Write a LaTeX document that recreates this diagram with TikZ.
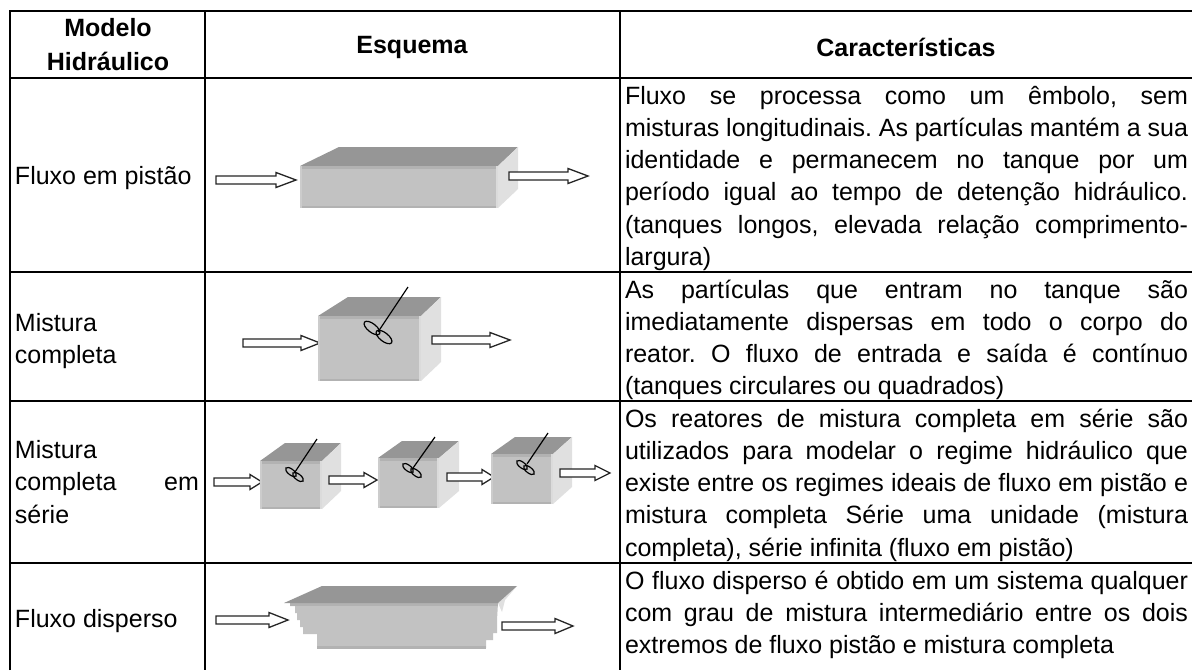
\documentclass[tikz,border=0pt]{standalone}
\usepackage{fontspec}
\setmainfont{Liberation Sans}
\frenchspacing
\newcommand{\fl}{\leavevmode\rule{0pt}{22pt}}
\newcommand{\flowarrow}[4]{% x1, xhead, x2, y
  \draw[arrowshape] (#1,#4-4) -- (#2,#4-4) -- (#2,#4-7.5) -- (#3,#4) -- (#2,#4+7.5) -- (#2,#4+4) -- (#1,#4+4) -- cycle;}
\newcommand{\tank}[7]{% xl xr ytop ybot xbl xbr ybtop
  \fill[topface] (#1,#3) -- (#5,#7) -- (#6,#7) -- (#2,#3) -- cycle;
  \fill[sideface] (#2,#3) -- (#6,#7) -- (#6,#4-#3+#7) -- (#2,#4) -- cycle;
  \fill[frontface] (#1,#3) rectangle (#2,#4);
  \fill[frontedge] (#1,#3) rectangle (#2,#3+2.5);
  \fill[frontedge] (#1,#4-2.5) rectangle (#2,#4);
  \fill[frontleft] (#1,#3) rectangle (#1+2,#4);
  \fill[frontright] (#2-2,#3) rectangle (#2,#4);}
\newcommand{\mixer}[9]{% stick top x y, stick bottom x y, blade1 x y, blade2 x y, radius
  \draw[mixline] (#1,#2) -- (#3,#4);
  \draw[mixline,shift={(#5,#6)},rotate=-38] (0,0) ellipse[x radius=#9pt,y radius=#9*0.45pt];
  \draw[mixline,shift={(#7,#8)},rotate=-38] (0,0) ellipse[x radius=#9pt,y radius=#9*0.45pt];}
\tikzset{
  x=1pt,y=-1pt,
  grid/.style={line width=2pt,black},
  arrowshape/.style={draw=black!85,fill=white,line width=1.3pt,line join=miter},
  topface/.style={fill=black!41},
  sideface/.style={fill=black!12},
  frontface/.style={fill=black!24},
  frontedge/.style={fill=black!30},
  frontleft/.style={fill=black!20},
  frontright/.style={fill=black!14},
  mixline/.style={draw=black,line width=1.2pt},
  cell/.style={inner sep=0pt,outer sep=0pt,font=\fontsize{25}{32.3}\selectfont,align=justify,text width=563pt,anchor=north west},
  label/.style={inner sep=0pt,outer sep=0pt,font=\fontsize{25}{32.8}\selectfont,align=justify,text width=184pt,anchor=north west},
  head/.style={inner sep=0pt,outer sep=0pt,font=\fontsize{25}{34}\selectfont\bfseries,align=center},
}
\begin{document}
\begin{tikzpicture}
\useasboundingbox (0,0) rectangle (1192,670);
\fill[white] (0,0) rectangle (1192,670);
% schemes
\flowarrow{216}{276}{296}{180}
\tank{300}{498}{166}{208}{339}{518}{147}
\flowarrow{509}{568}{588}{176}
\flowarrow{243}{301}{320}{343}
\tank{318}{421}{316}{381}{348}{441}{297}
\mixer{408}{287}{378}{332}{372}{328}{384}{337}{9.5}
\flowarrow{432}{490}{510}{340}
\flowarrow{214}{250}{262}{482}
\tank{260}{322}{461}{509}{285}{341}{443}
\mixer{317}{439}{295}{472}{291}{472}{298}{477}{6.5}
\flowarrow{329}{364}{377}{480}
\tank{378}{439}{458}{508}{402}{459}{441}
\mixer{435}{437}{413}{468}{408}{468}{416}{473}{6.5}
\flowarrow{447}{482}{494}{477}
\tank{491}{553}{454}{504}{515}{572}{437}
\mixer{548}{433}{527}{464}{522}{465}{529}{470}{6.5}
\flowarrow{560}{595}{610}{473}
% dispersed tank
\fill[sideface] (498,603) -- (517,586) -- (505,600) -- (502,612) -- cycle;
\fill[frontface] (290,603) -- (290,606) -- (295,606) -- (295,613) -- (297,613) -- (297,620) -- (300,620) -- (300,627) -- (303,627) -- (303,634) -- (317,634) -- (317,648) -- (486,648) -- (486,640) -- (493,640) -- (493,633) -- (497,633) -- (497,620) -- (498,603) -- cycle;
\fill[frontedge] (317,646) rectangle (486,648.5);
\fill[frontedge] (290,603) rectangle (498,606);
\fill[topface] (284,603) -- (322,586) -- (517,586) -- (498,603) -- cycle;
\flowarrow{216}{269}{288}{620}
\flowarrow{502}{555}{573}{626}
% grid
\draw[grid] (10,670) -- (10,11) -- (1192,11);
\draw[grid] (205,11) -- (205,670);
\draw[grid] (620,11) -- (620,670);
\draw[grid] (10,78) -- (1192,78);
\draw[grid] (10,272) -- (1192,272);
\draw[grid] (10,401) -- (1192,401);
\draw[grid] (10,563) -- (1192,563);
% header
\node[head] (h1) at (108,44.5) {Modelo\\Hidráulico};
\node[head] (h2) at (412,47) {Esquema};
\node[head] (h3) at (906,47) {Características};
% first column
\node[label] (m1) at (15,162) {\fl Fluxo em pistão};
\node[label] (m2) at (15,309) {\fl Mistura\\completa};
\node[label] (m3) at (15,436) {\fl Mistura\\completa\hfill em\\série};
\node[label] (m4) at (15,605) {\fl Fluxo disperso};
% third column
\node[cell] (c1) at (625,82) {\sloppy\fl Fluxo se processa como um êmbolo, sem\linebreak misturas longitudinais. As partículas mantém a sua\linebreak identidade e permanecem no tanque por um\linebreak período igual ao tempo de detenção hidráulico.\linebreak (tanques longos, elevada relação comprimento-\linebreak largura)};
\node[cell] (c2) at (625,276) {\sloppy\fl As partículas que entram no tanque são\linebreak imediatamente dispersas em todo o corpo do\linebreak reator. O fluxo de entrada e saída é contínuo\linebreak (tanques circulares ou quadrados)};
\node[cell] (c3) at (625,405) {\sloppy\fl Os reatores de mistura completa em série são\linebreak utilizados para modelar o regime hidráulico que\linebreak existe entre os regimes ideais de fluxo em pistão e\linebreak mistura completa Série uma unidade (mistura\linebreak completa), série infinita (fluxo em pistão)};
\node[cell] (c4) at (625,567) {\sloppy\fl O fluxo disperso é obtido em um sistema qualquer\linebreak com grau de mistura intermediário entre os dois\linebreak extremos de fluxo pistão e mistura completa};
\end{tikzpicture}
\end{document}
